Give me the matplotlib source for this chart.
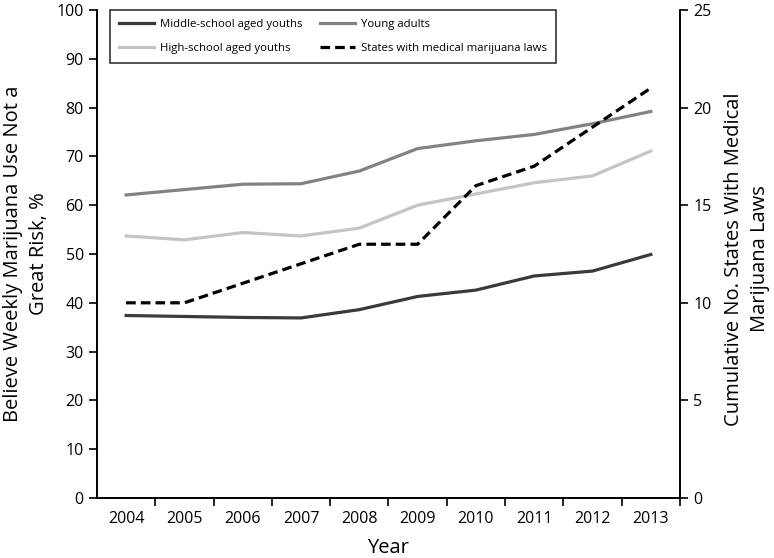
import matplotlib.pyplot as plt
import numpy as np

plt.rcParams['font.family'] = ['Open Sans', 'DejaVu Sans']

years = ['2004', '2005', '2006', '2007', '2008', '2009', '2010', '2011', '2012', '2013']
middle_school = [37.4, 37.2, 37.0, 36.9, 38.6, 41.3, 42.6, 45.5, 46.5, 49.9]
young_adults = [62.1, 63.2, 64.3, 64.4, 67.0, 71.6, 73.2, 74.5, 76.7, 79.2]
high_school = [53.7, 52.9, 54.4, 53.7, 55.3, 60.0, 62.3, 64.6, 66.0, 71.1]
states_mml = [10, 10, 11, 12, 13, 13, 16, 17, 19, 21]

fig = plt.figure(figsize=(7.74, 5.58), dpi=100)
ax = fig.add_axes([0.1253, 0.1075, 0.7532, 0.8746])
ax2 = ax.twinx()

x = np.arange(len(years))
l1, = ax.plot(x, middle_school, color='#3a3a3a', lw=2.3, label='Middle-school aged youths')
l3, = ax.plot(x, high_school, color='#c4c4c4', lw=2.3, label='High-school aged youths')
l2, = ax.plot(x, young_adults, color='#828282', lw=2.3, label='Young adults')
l4, = ax2.plot(x, states_mml, color='black', lw=2.3, ls=(0, (3, 1.6)),
               label='States with medical marijuana laws')

ax.set_xlim(-0.5, 9.5)
ax.set_ylim(0, 100)
ax2.set_ylim(0, 25)
ax.set_yticks(range(0, 101, 10))
ax2.set_yticks(range(0, 26, 5))

# ticks between categories, labels centered
ax.set_xticks(np.arange(0.5, 10, 1))
ax.set_xticklabels([])
ax.set_xticks(x, minor=True)
ax.set_xticklabels(years, minor=True)
ax.tick_params(axis='x', which='minor', length=0, pad=9, labelsize=11.5)
ax.tick_params(axis='x', which='major', length=6, width=1.2, direction='out')
ax.tick_params(axis='y', length=6, width=1.2, labelsize=11.5, direction='out')
ax2.tick_params(axis='y', length=6, width=1.2, labelsize=11.5, direction='out')

for a in (ax, ax2):
    a.spines['top'].set_visible(False)
    for s in ('left', 'right', 'bottom'):
        a.spines[s].set_linewidth(1.2)

ax.set_xlabel('Year', fontsize=14.5)
ax.xaxis.set_label_coords(0.5, -0.082)
ax.set_ylabel('Believe Weekly Marijuana Use Not a\nGreat Risk, %', fontsize=14.5,
              linespacing=1.4)
ax.yaxis.set_label_coords(-0.083, 0.5)
ax2.set_ylabel('Cumulative No. States With Medical\nMarijuana Laws', fontsize=14.5,
               rotation=90, linespacing=1.4)
ax2.yaxis.set_label_coords(1.075, 0.49)

leg = ax.legend(handles=[l1, l3, l2, l4], ncol=2, loc='upper left',
                bbox_to_anchor=(0.022, 1.0), borderaxespad=0, fontsize=8.2,
                frameon=True, fancybox=False, edgecolor='black',
                handlelength=3.1, handletextpad=0.5, columnspacing=1.5,
                borderpad=0.8, labelspacing=1.15)
leg.get_frame().set_linewidth(1.2)

plt.savefig('out.png', dpi=100, facecolor='white')
